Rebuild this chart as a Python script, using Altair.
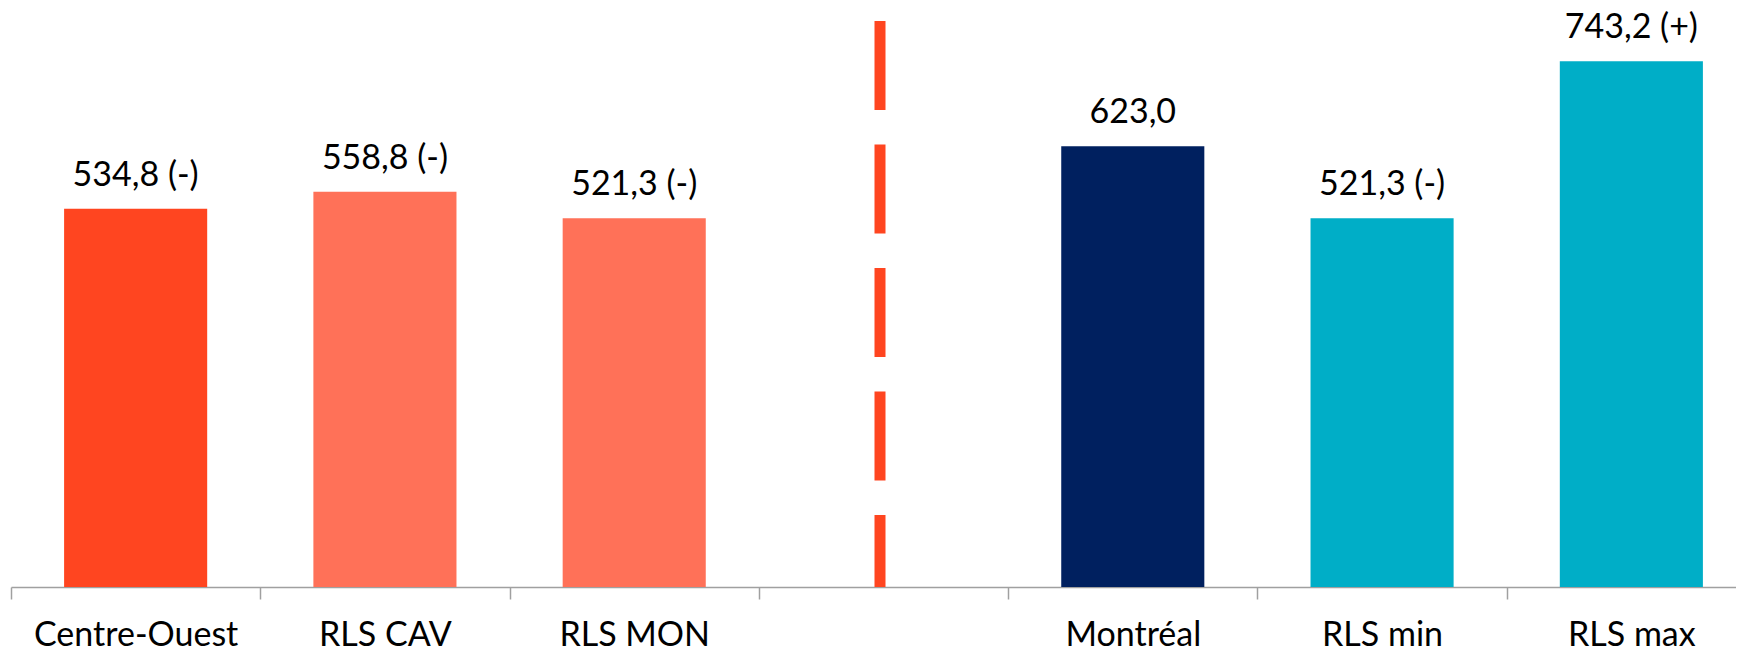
import altair as alt
import pandas as pd

categories = ["Centre-Ouest", "RLS CAV", "RLS MON", " ", "Montréal", "RLS min", "RLS max"]
values = [534.8, 558.8, 521.3, None, 623.0, 521.3, 743.2]
labels = ["534,8 (-)", "558,8 (-)", "521,3 (-)", "", "623,0", "521,3 (-)", "743,2 (+)"]
colors = ["#FF4520", "#FF7158", "#FF7158", "#FFFFFF", "#00205F", "#00AEC7", "#00AEC7"]
divider_category = [" "]
y_max = 800

df = pd.DataFrame({"cat": categories, "val": values, "lab": labels, "col": colors})
bars_df = df[df["val"].notna()]

FONT = "Lato"

x_scale = alt.Scale(domain=categories, range=[0, 1745], paddingInner=0, paddingOuter=0)
y_scale = alt.Scale(domain=[0, y_max], nice=False, zero=True)

x_axis = alt.Axis(
    title=None, labelAngle=0, labelFont=FONT, labelFontSize=34, labelColor="#000000",
    labelBaseline="alphabetic", labelPadding=46, labelLimit=0,
    domainColor="#A0A0A0", domainWidth=1.5, tickColor="#A0A0A0", tickWidth=1.5,
    tickSize=12, tickBand="extent", grid=False, labelFlush=False, labelOverlap=False,
)

base = alt.Chart(bars_df)

bars = base.mark_bar(width=alt.RelativeBandSize(0.574)).encode(
    x=alt.X("cat:N", scale=x_scale, axis=x_axis, sort=categories),
    y=alt.Y("val:Q", scale=y_scale, axis=None),
    color=alt.Color("col:N", scale=None, legend=None),
)

text = base.mark_text(font=FONT, fontSize=34, color="#000000", baseline="alphabetic", dy=-23).encode(
    x=alt.X("cat:N", scale=x_scale, sort=categories),
    y=alt.Y("val:Q", scale=y_scale),
    text="lab:N",
)

rule_df = pd.DataFrame({"cat": divider_category, "top": [y_max], "bottom": [0]})
rule = alt.Chart(rule_df).mark_rule(
    color="#FF4520", strokeWidth=11, strokeDash=[89, 34.5], xOffset=-3.5
).encode(
    x=alt.X("cat:N", scale=x_scale, sort=categories),
    y=alt.Y("top:Q", scale=y_scale),
    y2="bottom:Q",
)

chart = alt.layer(bars, rule, text).properties(
    width=1725, height=566,
    autosize=alt.AutoSizeParams(type="none"),
    padding={"left": 3, "top": 13, "right": 0, "bottom": 70},
).configure_view(stroke=None)

chart.save("out.html", embed_options={"renderer": "svg", "actions": False})
